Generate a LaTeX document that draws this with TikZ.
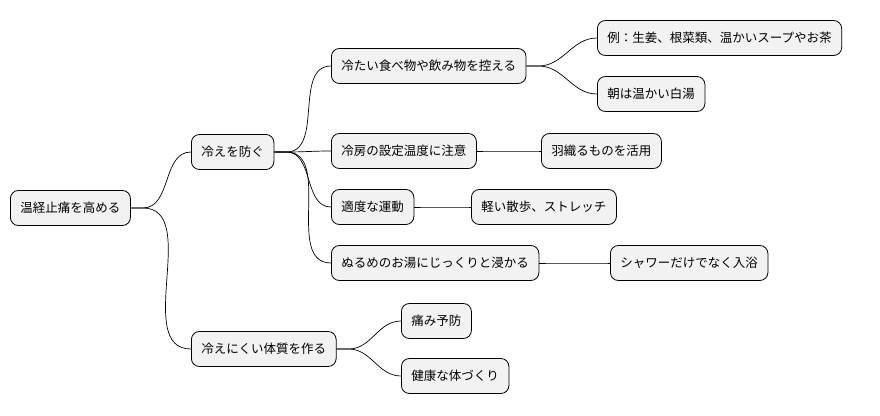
\documentclass[tikz,border=0pt]{standalone}
\usepackage{fontspec}
\setmainfont{Noto Sans CJK JP}
\begin{document}
\begin{tikzpicture}[x=1pt,y=-1pt,
  n/.style={draw=black,fill=gray!10,rounded corners=8pt,minimum height=35pt,inner xsep=10pt,font=\fontsize{12.5}{14}\selectfont,line width=0.8pt},
  e/.style={line width=0.7pt}]
\useasboundingbox (0,0) rectangle (880,415);
\node[n,anchor=west] (r) at (10,208) {温経止痛を高める};
\node[n,anchor=west] (a) at (191,152) {冷えを防ぐ};
\node[n,anchor=west] (b) at (191,349) {冷えにくい体質を作る};
\node[n,anchor=west] (a1) at (331,66) {冷たい食べ物や飲み物を控える};
\node[n,anchor=west] (a2) at (331,151) {冷房の設定温度に注意};
\node[n,anchor=west] (a3) at (331,207) {適度な運動};
\node[n,anchor=west] (a4) at (331,263) {ぬるめのお湯にじっくりと浸かる};
\node[n,anchor=west] (a11) at (597,38) {例：生姜、根菜類、温かいスープやお茶};
\node[n,anchor=west] (a12) at (597,94) {朝は温かい白湯};
\node[n,anchor=west] (a21) at (541,151) {羽織るものを活用};
\node[n,anchor=west] (a31) at (471,207) {軽い散歩、ストレッチ};
\node[n,anchor=west] (a41) at (610,263) {シャワーだけでなく入浴};
\node[n,anchor=west] (b1) at (401,321) {痛み予防};
\node[n,anchor=west] (b2) at (401,376) {健康な体づくり};
\foreach \p/\c in {r/a,r/b,a/a1,a/a2,a/a3,a/a4,a1/a11,a1/a12,a2/a21,a3/a31,a4/a41,b/b1,b/b2}
  \draw[e] (\p.east) -- ++(12,0) to[out=0,in=180] (\c.west);
\end{tikzpicture}
\end{document}
